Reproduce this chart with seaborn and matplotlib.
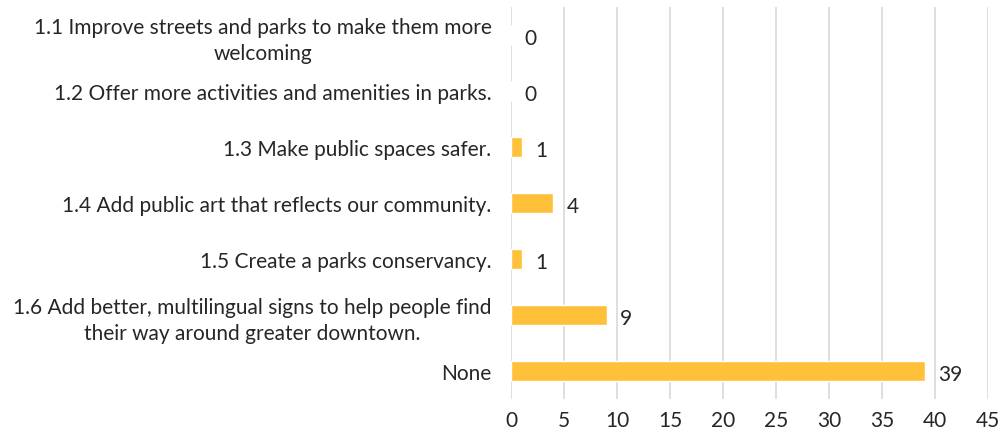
import pandas as pd
import matplotlib.pyplot as plt
import seaborn as sns

strategies = [
    "1.1 Improve streets and parks to make them more\nwelcoming",
    "1.2 Offer more activities and amenities in parks.",
    "1.3 Make public spaces safer.",
    "1.4 Add public art that reflects our community.",
    "1.5 Create a parks conservancy.",
    "1.6 Add better, multilingual signs to help people find\ntheir way around greater downtown.",
    "None",
]
counts = [0, 0, 1, 4, 1, 9, 39]
x_ticks = [0, 5, 10, 15, 20, 25, 30, 35, 40, 45]

df = pd.DataFrame({"strategy": strategies, "count": counts})

sns.set_style("white")
plt.rcParams["font.family"] = ["Lato", "DejaVu Sans"]
text_color = "#262626"

fig = plt.figure(figsize=(10.07, 4.39), dpi=100)
ax = fig.add_axes([0.5075, 0.089, 0.474, 0.893])

sns.barplot(data=df, y="strategy", x="count", color="#FFC03A",
            width=0.36, orient="h", ax=ax, saturation=1)

ax.set_xlim(0, 45)
ax.set_ylim(6.5, -0.5)
ax.set_xticks(x_ticks)
ax.xaxis.grid(True, color="#D9D9D9", linewidth=1.2)
ax.set_axisbelow(True)
for s in ax.spines.values():
    s.set_visible(False)
ax.set_xlabel("")
ax.set_ylabel("")
ax.tick_params(axis="both", length=0, labelsize=15, colors=text_color)
ax.tick_params(axis="x", pad=8)
ax.tick_params(axis="y", pad=14)
for lab in ax.get_yticklabels():
    lab.set_multialignment("center")
    lab.set_linespacing(1.35)

for i, v in enumerate(counts):
    ax.text(v + 1.3, i + 0.05, str(v), va="center", ha="left", fontsize=15, color=text_color)

plt.savefig("out.png", dpi=100)
